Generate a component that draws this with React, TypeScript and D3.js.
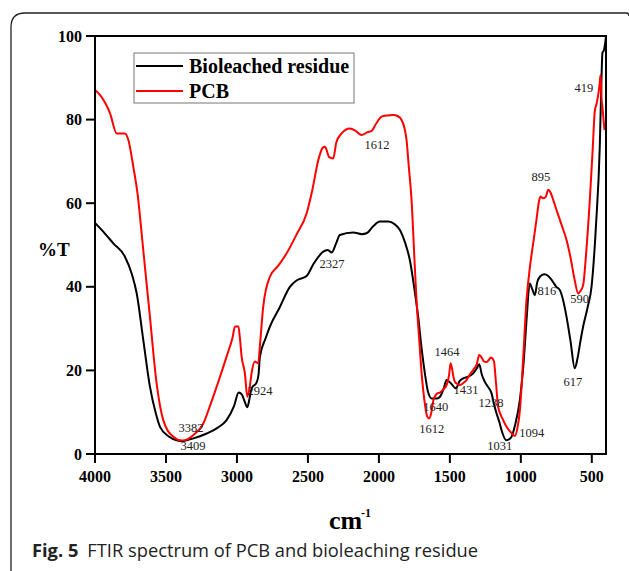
import React from "react";
import * as d3 from "d3";

const xTicks = [4000, 3500, 3000, 2500, 2000, 1500, 1000, 500];
const yTicks = [0, 20, 40, 60, 80, 100];

const blackWave = [4000,3950,3871,3789,3740,3706,3660,3613,3570,3542,3480,3425,3380,3354,3300,3213,3140,3073,3020,2988,2965,2945,2927,2910,2897,2862,2848,2838,2800,2768,2700,2627,2580,2509,2460,2392,2360,2333,2300,2275,2181,2120,2087,2040,1993,1934,1890,1852,1815,1782,1750,1723,1700,1676,1655,1629,1590,1570,1545,1523,1490,1458,1430,1406,1370,1336,1310,1293,1275,1254,1230,1206,1190,1171,1150,1136,1101,1080,1066,1040,1007,980,960,937,920,901,885,866,835,807,780,750,725,700,678,650,620,600,580,561,530,502,470,444,432,425,415,405,400];
const blackPct = [55.3,53.5,50.4,47.2,43,38.4,27.3,16.1,9.5,6.5,4.2,3.3,3.1,3.3,3.8,4.9,6.2,8.1,11.5,14.7,14.2,12.5,11.2,13.5,15.7,17.1,19,23.3,27.5,30.5,35,40,41.5,42.6,45.5,48.4,48.8,48.2,50.5,52.4,53,52.6,52.8,54.5,55.6,55.6,55,53.6,50.5,46.4,39.5,32.8,25.5,19.3,15,13.3,13.3,13.7,15.5,17.7,16.8,15.7,17.5,18.1,18.5,19.3,20.5,21.5,19,17.3,16,14.5,12,9.7,7.5,5.7,3.3,3.6,4.1,7,12.9,22,32,40.8,39.5,38,41,42.4,43,42.6,41.5,40,39.2,36.5,32.8,27,20.5,23,27,30.5,35,40,55,73.4,89.5,96,96.6,98.5,100];

const redWave = [4000,3965,3894,3847,3789,3765,3730,3695,3683,3660,3613,3566,3519,3448,3390,3350,3308,3237,3190,3143,3073,3030,3014,2990,2980,2967,2944,2927,2910,2897,2873,2850,2838,2815,2768,2710,2650,2580,2509,2470,2427,2395,2380,2350,2322,2300,2263,2204,2160,2122,2080,2051,2020,1981,1940,1899,1865,1840,1820,1805,1790,1770,1750,1735,1715,1699,1680,1660,1646,1630,1615,1606,1590,1570,1545,1523,1505,1495,1485,1475,1465,1450,1430,1405,1383,1360,1336,1310,1293,1275,1258,1240,1225,1211,1190,1175,1160,1130,1101,1070,1042,1025,1007,985,960,935,913,890,870,860,845,825,807,790,772,740,710,678,650,620,596,580,561,540,514,493,479,465,455,445,438,431,425,415,410];
const redPct = [87.1,85.9,81.5,76.7,76.7,75.1,68.7,60.8,56.8,48.8,32.8,16.9,8.1,4.1,3.2,3.5,4.5,7.3,11.5,16.1,23.3,28,30.5,30.5,28,23.3,19.3,13.7,16,19.3,22.1,21.7,26,35.2,42.4,45,48,52.5,57.6,63,70.3,73.3,73.5,71,70.7,74.5,76.7,77.9,77.2,76.3,77,77.3,79,80.7,81,81.1,80.8,79.9,78,75.1,69,60.8,47,36.8,27,19.3,13,9,8.5,10,13,13.7,14.5,14.7,15.5,16.5,19,21.7,20.5,18.5,17.3,16.8,16.5,17,17.7,19,20.1,21.5,23.7,23,22.1,22,22.5,23.1,22.3,17,11.3,8.5,6.5,5.2,4.3,6,10.3,22,36.8,45,50.4,56,60.8,61.6,61.2,61.5,63.2,62.5,60.8,57.5,54.5,51.2,47,41.5,38.4,39,40.4,48,60.8,73.4,82,84,85.9,88.5,90.7,85,83,79.1,77.5];

const annoLabels = ["1612","419","895","2327","816","590","1464","1431","617","1640","1238","1612","1094","1031","3382","3409","2924"];
const annoWave = [2014,556,859,2331,817,585,1521,1387,634,1599,1211,1627,923,1148,3324,3310,2838];
const annoPct = [73.0,86.6,65.3,44.5,38,36.1,23.4,14.4,16.3,10.3,11.2,5.0,4.1,1.0,5.3,1.0,14.1];

const serif = "'Liberation Serif', 'Times New Roman', serif";

export default function App() {
  const W = 629, H = 571;
  const x = d3.scaleLinear().domain([4000, 400]).range([95, 606]);
  const y = d3.scaleLinear().domain([0, 100]).range([454, 36]);
  const line = d3.line<[number, number]>().x(d => x(d[0])).y(d => y(d[1])).curve(d3.curveMonotoneX);
  const black = blackWave.map((w, i) => [w, blackPct[i]] as [number, number]);
  const red = redWave.map((w, i) => [w, redPct[i]] as [number, number]);
  return (
    <svg width={W} height={H} style={{ position: "absolute", left: 0, top: 0, background: "#fff" }}>
      <rect x={0} y={0} width={W} height={H} fill="#fff" />
      <path d={`M11,571 L11,27 Q11,13 25,13 L626,13 Q629,13 629,16`} fill="none" stroke="#222" strokeWidth={1.3} />
      <defs>
        <clipPath id="plot"><rect x={95} y={36} width={511} height={418} /></clipPath>
      </defs>
      <g clipPath="url(#plot)">
        <path d={line(black) || ""} fill="none" stroke="#000" strokeWidth={2} />
        <path d={line(red) || ""} fill="none" stroke="#ff0000" strokeWidth={2} />
      </g>
      <rect x={95} y={36} width={511} height={418} fill="none" stroke="#000" strokeWidth={2} />
      {yTicks.map(t => (
        <g key={"y" + t}>
          <line x1={86} x2={95} y1={y(t)} y2={y(t)} stroke="#000" strokeWidth={2} />
          <text x={82} y={y(t) + 5.5} textAnchor="end" fontFamily={serif} fontWeight="bold" fontSize={16}>{t}</text>
        </g>
      ))}
      {xTicks.map(t => (
        <g key={"x" + t}>
          <line x1={x(t)} x2={x(t)} y1={454} y2={463} stroke="#000" strokeWidth={2} />
          <text x={x(t)} y={482} textAnchor="middle" fontFamily={serif} fontWeight="bold" fontSize={16}>{t}</text>
        </g>
      ))}
      <text x={38} y={256} fontFamily={serif} fontWeight="bold" fontSize={19}>%T</text>
      <text x={329} y={529} fontFamily={serif} fontWeight="bold" fontSize={26}>cm</text>
      <text x={361} y={517} fontFamily={serif} fontWeight="bold" fontSize={12}>-1</text>
      <rect x={134} y={53} width={220} height={50} fill="#fff" stroke="#777" strokeWidth={1} />
      <line x1={136} x2={183} y1={66} y2={66} stroke="#000" strokeWidth={2} />
      <line x1={136} x2={183} y1={91} y2={91} stroke="#ff0000" strokeWidth={2} />
      <text x={189} y={73} fontFamily={serif} fontWeight="bold" fontSize={20}>Bioleached residue</text>
      <text x={189} y={98} fontFamily={serif} fontWeight="bold" fontSize={20}>PCB</text>
      {annoLabels.map((l, i) => (
        <text key={"a" + i} x={x(annoWave[i])} y={y(annoPct[i])} textAnchor="middle" fontFamily={serif} fontSize={12.5} fill="#222">{l}</text>
      ))}
      <text x={32} y={557} fontFamily="'Open Sans', 'Noto Sans', sans-serif" fontSize={18.3} fill="#222">
        <tspan fontWeight="bold">Fig. 5</tspan>
        <tspan dx={9}>FTIR spectrum of PCB and bioleaching residue</tspan>
      </text>
    </svg>
  );
}
